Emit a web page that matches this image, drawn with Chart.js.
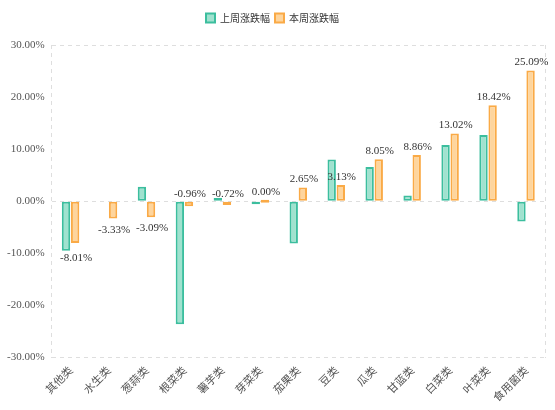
<!DOCTYPE html>
<html>
<head>
<meta charset="utf-8">
<script src="https://cdn.jsdelivr.net/npm/chart.js@4"></script>
<style>
  html, body { margin: 0; padding: 0; background: #fff; }
  #wrap { width: 555px; height: 410px; }
</style>
</head>
<body>
<div id="wrap"><canvas id="chart"></canvas></div>
<script>
// categories and weekly changes (%)
const categories = ['其他类', '水生类', '葱蒜类', '根菜类', '薯芋类', '芽菜类', '茄果类', '豆类', '瓜类', '甘蓝类', '白菜类', '叶菜类', '食用菌类'];
const lastWeek = [-9.5, null, 2.8, -23.6, 0.65, -0.3, -8.1, 8.0, 6.6, 1.1, 10.8, 12.7, -3.9];
const thisWeek = [-8.01, -3.33, -3.09, -0.96, -0.72, 0.00, 2.65, 3.13, 8.05, 8.86, 13.02, 18.42, 25.09];
const seriesNames = ['上周涨跌幅', '本周涨跌幅'];
const yTicks = [-30, -20, -10, 0, 10, 20, 30];

const GRID = '#dedede';
const serif = '"Liberation Serif", "DejaVu Serif", serif';
const cjk = '"Noto Sans CJK SC", "Noto Sans", sans-serif';

// extra room under the legend
const legendGap = {
  id: 'legendGap',
  beforeInit(chart) {
    const fit = chart.legend.fit;
    chart.legend.fit = function () {
      fit.bind(chart.legend)();
      this.height += 12;
    };
  }
};

// draw value labels for the current-week series
const valueLabels = {
  id: 'valueLabels',
  afterDatasetsDraw(chart) {
    const ctx = chart.ctx;
    const prev = chart.getDatasetMeta(0).data;
    const meta = chart.getDatasetMeta(1);
    ctx.save();
    ctx.font = '11px ' + serif;
    ctx.fillStyle = '#333';
    ctx.textAlign = 'center';
    ctx.textBaseline = 'middle';
    meta.data.forEach((bar, i) => {
      const v = thisWeek[i];
      let y;
      if (v > -1) {
        y = Math.min(bar.y, bar.base) - 8;
      } else {
        y = Math.max(bar.y, bar.base) + 11;
        const other = prev[i];
        if (other && lastWeek[i] !== null) {
          y = Math.max(y, Math.max(other.y, other.base) + 7);
        }
      }
      ctx.fillText(v.toFixed(2) + '%', bar.x + 1, y);
    });
    ctx.restore();
  }
};

new Chart(document.getElementById('chart').getContext('2d'), {
  type: 'bar',
  data: {
    labels: categories,
    datasets: [
      {
        label: seriesNames[0],
        data: lastWeek,
        backgroundColor: 'rgb(160,226,207)',
        borderColor: 'rgb(60,190,158)',
        borderWidth: 2,
        borderSkipped: false,
        minBarLength: 3,
        categoryPercentage: 0.48,
        barPercentage: 0.92
      },
      {
        label: seriesNames[1],
        data: thisWeek,
        backgroundColor: 'rgb(254,213,157)',
        borderColor: 'rgb(250,170,70)',
        borderWidth: 2,
        borderSkipped: false,
        minBarLength: 3,
        categoryPercentage: 0.48,
        barPercentage: 0.92
      }
    ]
  },
  options: {
    responsive: true,
    maintainAspectRatio: false,
    animation: false,
    layout: { padding: { left: 0, right: 10, top: 8, bottom: 0 } },
    plugins: {
      legend: {
        position: 'top',
        labels: {
          boxWidth: 9,
          boxHeight: 9,
          padding: 5,
          color: '#333',
          font: { size: 10, family: cjk }
        }
      },
      tooltip: { enabled: false }
    },
    scales: {
      x: {
        grid: {
          drawTicks: false,
          color: ctx => (ctx.index === 0 || ctx.type === 'scale') ? GRID : 'rgba(0,0,0,0)'
        },
        border: { display: false, dash: [4, 4] },
        ticks: {
          autoSkip: false,
          maxRotation: 45,
          minRotation: 45,
          padding: 6,
          color: '#555',
          font: { size: 11, family: cjk }
        }
      },
      y: {
        min: -30,
        max: 30,
        afterBuildTicks: axis => { axis.ticks = yTicks.map(v => ({ value: v })); },
        grid: {
          drawTicks: false,
          color: ctx => (ctx.tick && [30, 0, -30].includes(ctx.tick.value)) ? GRID : 'rgba(0,0,0,0)'
        },
        border: { display: false, dash: [4, 4] },
        ticks: {
          padding: 7,
          color: '#555',
          font: { size: 11, family: serif },
          callback: v => v.toFixed(2) + '%'
        }
      }
    }
  },
  plugins: [legendGap, valueLabels]
});
</script>
</body>
</html>
